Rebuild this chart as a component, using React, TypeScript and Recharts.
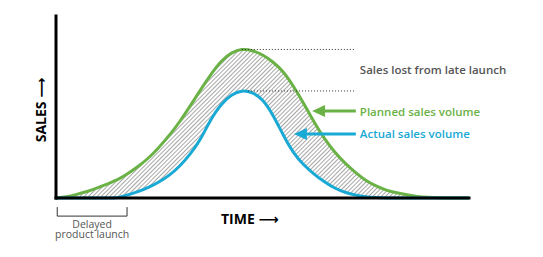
import React from 'react';
import {
  ComposedChart,
  Area,
  Line,
  XAxis,
  YAxis,
  ReferenceLine,
} from 'recharts';

// time axis (arbitrary units) and sales volumes
const time = [
  0, 2.5, 5, 7.5, 10, 12.5, 15, 17.5, 20, 22.5,
  25, 27.5, 30, 32.5, 35, 37.5, 40, 42.5, 45, 47.5,
  50, 52.5, 55, 57.5, 60, 62.5, 65, 67.5, 70, 72.5,
  75, 77.5, 80, 82.5, 85, 87.5, 90, 92.5, 95, 97.5, 100,
];
const planned = [
  0, 0.6, 2, 3.5, 5.5, 7.8, 10, 13.5, 17.5, 22,
  28, 34.5, 42, 50.5, 59.5, 68, 75.5, 80, 82, 81.2,
  78.8, 75, 69.7, 61.5, 52, 41.5, 32.5, 25, 19, 14,
  9.5, 6.5, 4.2, 2.8, 1.7, 0.8, 0.3, 0.1, 0, 0, 0,
];
const actual = [
  0, 0, 0, 0, 0, 0, 0, 1.8, 3.5, 5.8,
  8.8, 12.5, 17.5, 24, 32, 43.5, 51.8, 57, 59.2, 58.2,
  54.5, 46, 34.5, 24.5, 18, 13, 8.8, 5.3, 3, 1.5,
  0.6, 0.2, 0, 0, 0, 0, 0, 0, 0, 0, 0,
];

// annotation anchors
const peakPlanned = 81.6;
const peakActual = 58.8;
const calloutEnd = 72.6;
const plannedArrow = { tip: 62, y: 47.8 };
const actualArrow = { tip: 57.6, y: 35.2 };
const delayRange = [0.3, 17.2];

const GREEN = '#6ab245';
const BLUE = '#19a9d5';
const GRAY = '#555555';
const FONT = '"Open Sans", "DejaVu Sans", sans-serif';

const data = time.map((t, i) => ({
  t,
  planned: planned[i],
  actual: actual[i],
  lost: [actual[i], planned[i]],
}));

const Arrow = ({ x1, y1, x2, color, text }: any) => (
  <g>
    <line x1={x1 + 10} y1={y1} x2={x2} y2={y1} stroke={color} strokeWidth={3} />
    <polygon points={`${x1},${y1} ${x1 + 13},${y1 - 6} ${x1 + 13},${y1 + 6}`} fill={color} />
    <text x={x2 + 4} y={y1} dominantBaseline="central" fill={color} fontSize={11.5} fontWeight={600} fontFamily={FONT}>
      {text}
    </text>
  </g>
);

const LostLabel = ({ x2, y1, y2 }: any) => (
  <text x={x2 + 4} y={(y1 + y2) / 2 - 1} dominantBaseline="central" fill={GRAY} fontSize={11.5} fontWeight={600} fontFamily={FONT}>
    Sales lost from late launch
  </text>
);

const Bracket = ({ x1, y1, x2 }: any) => {
  const cx = (x1 + x2) / 2;
  return (
    <g>
      <path d={`M${x1},${y1} V${y1 + 9} H${x2} V${y1}`} fill="none" stroke="#333" strokeWidth={1} />
      <text textAnchor="middle" fill={GRAY} fontSize={10.5} fontFamily={FONT}>
        <tspan x={cx} y={y1 + 20.5}>Delayed</tspan>
        <tspan x={cx} y={y1 + 31}>product launch</tspan>
      </text>
    </g>
  );
};

const SalesTitle = ({ viewBox }: any) => {
  const x = viewBox.x + 40;
  const y = viewBox.y + viewBox.height / 2 + 3;
  return (
    <text x={x} y={y} transform={`rotate(-90 ${x} ${y})`} textAnchor="middle" dominantBaseline="central" fontSize={14} fontWeight={700} fontFamily={FONT} fill="#000">
      SALES ⟶
    </text>
  );
};

const TimeTitle = ({ viewBox }: any) => (
  <text x={viewBox.x + 165} y={viewBox.y + 20} dominantBaseline="central" fontSize={14} fontWeight={700} fontFamily={FONT} fill="#000">
    TIME ⟶
  </text>
);

export default function App() {
  return (
    <div style={{ position: 'absolute', left: 0, top: 0, width: 543, height: 257, background: '#fff' }}>
      <ComposedChart width={543} height={257} data={data} margin={{ top: 16, right: 74, bottom: 30, left: 0 }}>
        <defs>
          <pattern id="hatch" width="3" height="3" patternUnits="userSpaceOnUse" patternTransform="rotate(45)">
            <line x1="0" y1="0" x2="0" y2="3" stroke="#222" strokeWidth="0.8" />
          </pattern>
        </defs>
        <Area
          type="basis"
          dataKey="lost"
          fill="url(#hatch)"
          fillOpacity={1}
          stroke="none"
          isAnimationActive={false}
        />
        <Line type="basis" dataKey="planned" stroke={GREEN} strokeWidth={3} dot={false} isAnimationActive={false} />
        <Line type="basis" dataKey="actual" stroke={BLUE} strokeWidth={3} dot={false} isAnimationActive={false} />
        <ReferenceLine
          segment={[{ x: 45, y: peakPlanned }, { x: calloutEnd, y: peakPlanned }]}
          stroke="#333"
          strokeWidth={1}
          strokeDasharray="1 2"
        />
        <ReferenceLine
          segment={[{ x: 46.5, y: peakActual }, { x: calloutEnd, y: peakActual }]}
          stroke="#333"
          strokeWidth={1}
          strokeDasharray="1 2"
        />
        <ReferenceLine
          segment={[{ x: calloutEnd, y: peakActual }, { x: calloutEnd, y: peakPlanned }]}
          shape={(p: any) => <LostLabel {...p} />}
        />
        <ReferenceLine
          segment={[{ x: plannedArrow.tip, y: plannedArrow.y }, { x: calloutEnd, y: plannedArrow.y }]}
          shape={(p: any) => <Arrow {...p} color={GREEN} text="Planned sales volume" />}
        />
        <ReferenceLine
          segment={[{ x: actualArrow.tip, y: actualArrow.y }, { x: calloutEnd, y: actualArrow.y }]}
          shape={(p: any) => <Arrow {...p} color={BLUE} text="Actual sales volume" />}
        />
        <ReferenceLine
          segment={[{ x: delayRange[0], y: -5 }, { x: delayRange[1], y: -5 }]}
          ifOverflow="visible"
          shape={(p: any) => <Bracket {...p} />}
        />
        <XAxis
          type="number"
          dataKey="t"
          domain={[0, 100]}
          height={29}
          tick={false}
          tickLine={false}
          axisLine={{ stroke: '#000', strokeWidth: 3, strokeLinecap: 'square' }}
          label={{ content: (p: any) => <TimeTitle {...p} /> }}
        />
        <YAxis
          type="number"
          domain={[0, 100]}
          width={56}
          tick={false}
          tickLine={false}
          axisLine={{ stroke: '#000', strokeWidth: 3, strokeLinecap: 'square' }}
          label={{ content: (p: any) => <SalesTitle {...p} /> }}
        />
      </ComposedChart>
    </div>
  );
}
